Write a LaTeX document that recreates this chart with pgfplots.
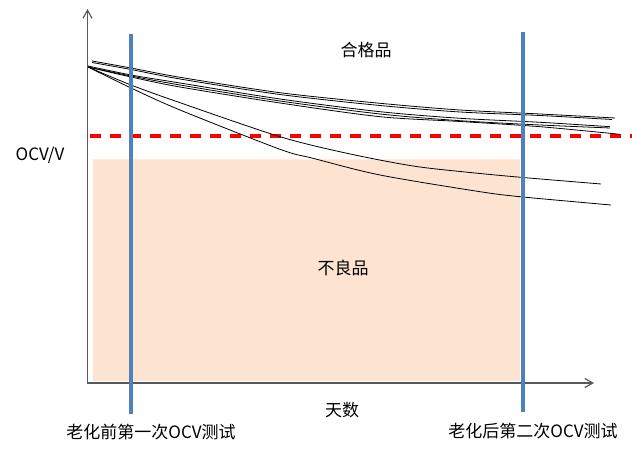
\documentclass[border=0pt]{standalone}
\usepackage{pgfplots}
\pgfplotsset{compat=1.18}
\usepackage{fontspec}
\setmainfont{Noto Sans CJK SC}
\usetikzlibrary{arrows.meta}

\definecolor{peach}{RGB}{253,228,208}
\definecolor{officeblue}{RGB}{79,129,189}
\newcommand{\lbl}{\fontsize{17bp}{20bp}\selectfont}

\begin{document}
\begin{tikzpicture}
\begin{axis}[
    x=1bp, y=1bp,
    xmin=87.5, xmax=594,
    ymin=75, ymax=449,
    axis lines=left,
    x axis line style={-{Straight Barb[length=8bp,width=9bp]}},
    y axis line style={-{Straight Barb[length=8bp,width=9bp]}},
    axis line style={black!65, line width=1.2bp},
    xtick=\empty, ytick=\empty,
    clip=false,
]

% region of rejects
\addplot[fill=peach, draw=none] coordinates {
    (93,77)(520,77)(520,298.5)(93,298.5)(93,77)};

% pass limit
\addplot[red, line width=3.5bp, dash pattern=on 11bp off 9bp] coordinates {
    (90,322)(632,322)};

% OCV decay of the cells
\addplot[black, line width=0.8bp, smooth] coordinates {
    (92,397)(131,390)(180,380.7)(280,365.3)(380,354.7)(460,348)(540,344)(615,340)};
\addplot[black, line width=0.8bp, smooth] coordinates {
    (92,395.5)(131,388.5)(180,379)(280,363.5)(380,352.5)(460,346)(540,342.5)(612,338.5)};
\addplot[black, line width=0.8bp, smooth] coordinates {
    (88,392)(131,383)(180,375)(280,359)(380,346.3)(460,339.7)(540,335.7)(610,331.3)};
\addplot[black, line width=0.8bp, smooth] coordinates {
    (88,391)(131,382)(180,373)(280,357)(380,344)(460,337.3)(540,333)(610,330)};
\addplot[black, line width=0.8bp, smooth] coordinates {
    (88,391)(131,381)(180,371)(280,355)(380,341.3)(460,336.5)(540,331.3)(620,323.7)};
\addplot[black, line width=0.8bp, smooth] coordinates {
    (88,391)(131,373)(180,355.3)(280,321.3)(347,304.7)(413,292)(470,285.5)(523,280.5)(601,274)};
\addplot[black, line width=0.8bp, smooth] coordinates {
    (88,391)(131,370)(180,348)(280,308.7)(313,299.7)(380,283)(480,266.3)(523,261)(611,253)};

% the two OCV tests
\addplot[officeblue, line width=3.2bp] coordinates {(131,44)(131,424)};
\addplot[officeblue, line width=3.2bp] coordinates {(523,46)(523,426)};

\node[inner sep=0pt, font=\lbl] at (axis cs:366,408) {合格品};
\node[inner sep=0pt, font=\lbl] at (axis cs:343,190) {不良品};
\node[inner sep=0pt, font=\lbl] at (axis cs:40,303) {OCV/V};
\node[inner sep=0pt, font=\lbl] at (axis cs:342,48) {天数};
\node[inner sep=0pt, font=\lbl] at (axis cs:151,26) {老化前第一次OCV测试};
\node[inner sep=0pt, font=\lbl] at (axis cs:533,27) {老化后第二次OCV测试};

\coordinate (BL) at (axis cs:0,0);
\coordinate (TR) at (axis cs:632,458);
\end{axis}
\pgfresetboundingbox
\path[use as bounding box] (BL) rectangle (TR);
\end{tikzpicture}
\end{document}
